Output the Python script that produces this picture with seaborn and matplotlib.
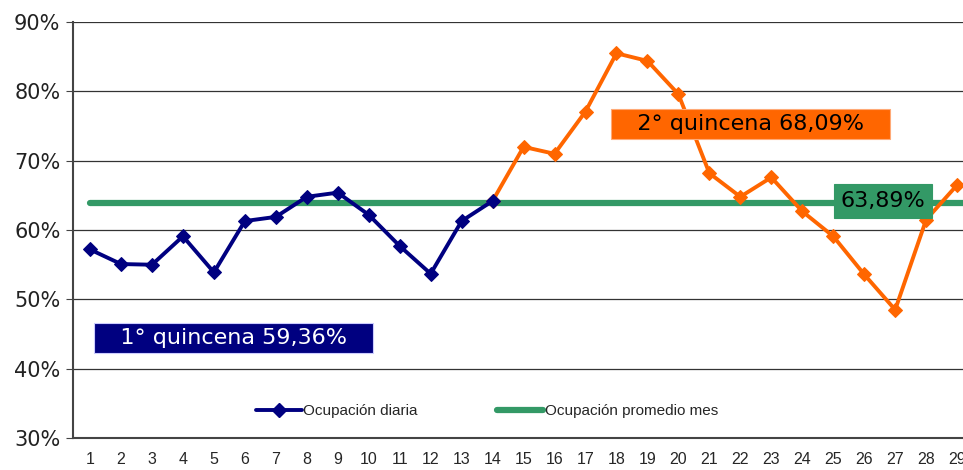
import matplotlib
matplotlib.use("Agg")
import matplotlib.pyplot as plt
import seaborn as sns
from matplotlib.lines import Line2D

# daily occupancy (%)
days_q1 = list(range(1, 15))
occ_q1 = [57.2, 55.1, 55.0, 59.1, 53.9, 61.3, 61.9, 64.8, 65.4, 62.2, 57.7, 53.7, 61.3, 64.2]

days_q2 = list(range(14, 30))
occ_q2 = [64.2, 72.0, 71.0, 77.1, 85.5, 84.4, 79.6, 68.2, 64.8, 67.6, 62.7, 59.1, 53.6, 48.5, 61.5, 66.5]

# monthly average, drawn over the whole month (day 30 falls outside the visible area)
avg_month = 63.89
days_month = list(range(1, 31))
avg_line = [avg_month] * len(days_month)
day_labels = list(range(1, 30))

label_q1 = "1° quincena 59,36%"
label_q2 = "2° quincena 68,09%"
label_avg = "63,89%"

navy = "#000080"
orange = "#FF6600"
green = "#339966"

sns.set_style("white")
fig = plt.figure(figsize=(9.63, 4.70), dpi=100)
ax = fig.add_axes([0.0758, 0.068, 0.9242, 0.885])

# average line first so daily lines sit on top
sns.lineplot(x=days_month, y=avg_line, color=green, lw=4.5, ax=ax, zorder=2)
sns.lineplot(x=days_q2, y=occ_q2, color=orange, lw=2.8, marker="D", markersize=7,
             markeredgecolor=orange, ax=ax, zorder=3)
sns.lineplot(x=days_q1, y=occ_q1, color=navy, lw=2.8, marker="D", markersize=7,
             markeredgecolor=navy, ax=ax, zorder=4)

ax.set_ylim(30, 90)
ax.set_xlim(0.45, 29.19)
ax.set_yticks(range(30, 91, 10))
ax.set_yticklabels([f"{v}%" for v in range(30, 91, 10)], fontsize=15, color="#222222")
ax.set_xticks(day_labels)
ax.set_xticklabels([str(d) for d in day_labels], fontsize=11.5, family="Liberation Sans")
ax.set_xticks([d + 0.5 for d in range(0, 29)], minor=True)
ax.tick_params(axis="x", which="major", length=0, pad=10)
ax.tick_params(axis="x", which="minor", length=5, color="#444444", direction="out")
ax.tick_params(axis="y", length=5, color="#444444", direction="out", left=True, pad=4)

for v in range(40, 91, 10):
    ax.axhline(v, color="#333333", lw=0.9, zorder=1)

for s in ["top", "right"]:
    ax.spines[s].set_visible(False)
ax.spines["left"].set_color("#444444")
ax.spines["left"].set_linewidth(1.5)
ax.spines["bottom"].set_color("#444444")
ax.spines["bottom"].set_linewidth(1.5)
ax.set_xlabel("")
ax.set_ylabel("")

# summary boxes
ax.text(5.64, 44.4, f"   {label_q1}   ", color="white", fontsize=16, ha="center", va="center",
        bbox=dict(boxstyle="square,pad=0.22", fc=navy, ec="#ccccff", lw=0.8), zorder=6)
ax.text(22.33, 75.3, f"   {label_q2}   ", color="black", fontsize=16, ha="center", va="center",
        bbox=dict(boxstyle="square,pad=0.22", fc=orange, ec="#ffaa77", lw=0.8), zorder=6)
ax.text(26.6, 64.2, label_avg, color="black", fontsize=16, ha="center", va="center",
        bbox=dict(boxstyle="square,pad=0.3", fc=green, ec=green, lw=0.8), zorder=6)

handles = [
    Line2D([], [], color=navy, lw=2.8, marker="D", markersize=7),
    Line2D([], [], color=green, lw=4.5),
]
ax.legend(handles, ["Ocupación diaria", "Ocupación promedio mes"], ncol=2,
          loc="center left", bbox_to_anchor=(0.19, 0.065), frameon=False,
          handlelength=3.0, handletextpad=0.1, columnspacing=5.2,
          prop={"family": "Liberation Sans", "size": 11})

fig.savefig("out.png", dpi=100)
